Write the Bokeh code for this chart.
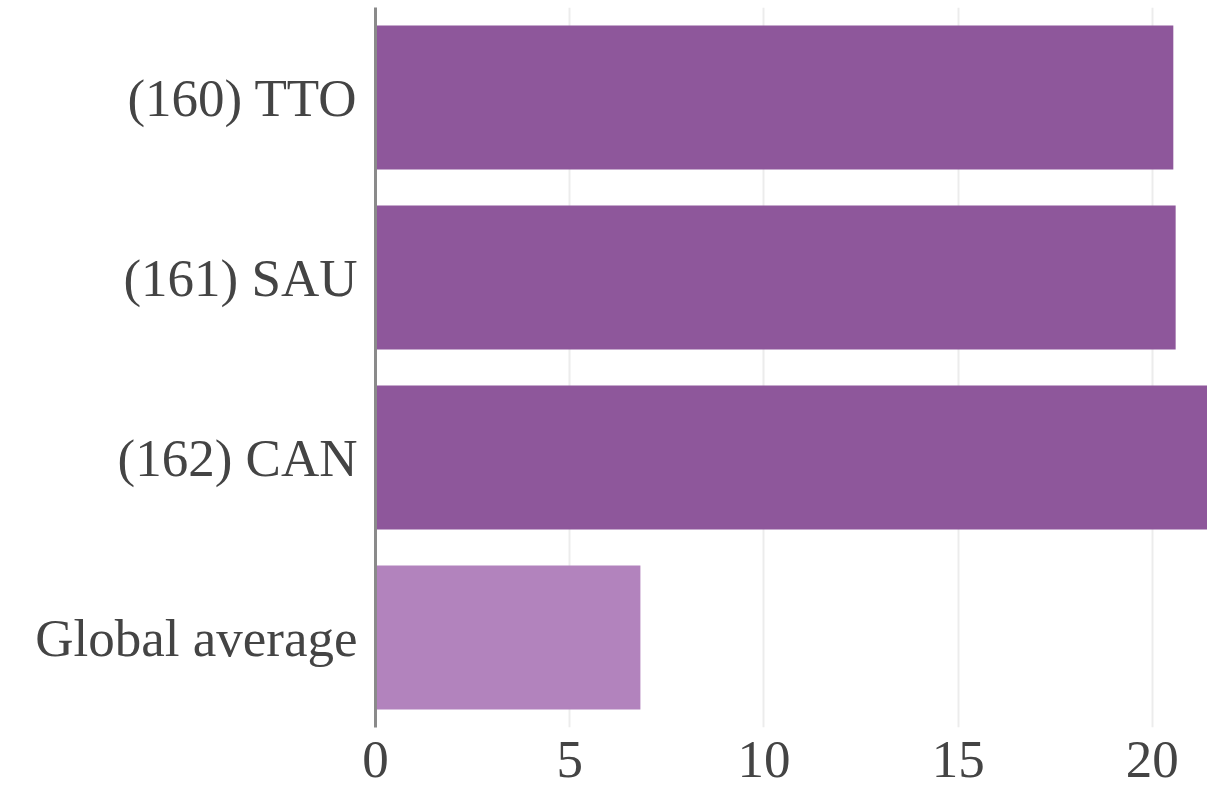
from bokeh.plotting import figure
from bokeh.models import FactorRange, Range1d, FixedTicker, ColumnDataSource
from bokeh.embed import file_html
from bokeh.resources import INLINE

categories = ["(160) TTO", "(161) SAU", "(162) CAN", "Global average"]
values = [20.54, 20.6, 22.1, 6.82]
colors = ["#8E579B", "#8E579B", "#8E579B", "#B283BD"]
x_ticks = [0, 5, 10, 15, 20]

src = ColumnDataSource(dict(cat=categories, val=values, color=colors))

p = figure(
    width=1207, height=789,
    y_range=FactorRange(factors=list(reversed(categories))),
    x_range=Range1d(0, 21.42),
    output_backend="svg", toolbar_location=None,
    min_border_left=375, min_border_right=0, min_border_top=7, min_border_bottom=62,
)
p.outline_line_color = None
p.hbar(y="cat", right="val", left=0, height=0.8, color="color", source=src, line_color=None)

p.xaxis.ticker = FixedTicker(ticks=x_ticks)
p.xaxis.axis_line_color = None
p.xaxis.major_tick_line_color = None
p.xaxis.minor_tick_line_color = None
p.xaxis.major_tick_out = 0
p.xaxis.major_label_standoff = 14

p.yaxis.axis_line_color = "#8a8a8a"
p.yaxis.axis_line_width = 3
p.yaxis.major_tick_line_color = None
p.yaxis.minor_tick_line_color = None
p.yaxis.major_tick_out = 0
p.yaxis.major_label_standoff = 18

for ax in (p.xaxis, p.yaxis):
    ax.major_label_text_font = "Liberation Serif"
    ax.major_label_text_font_size = "53px"
    ax.major_label_text_color = "#444444"

p.ygrid.grid_line_color = None
p.xgrid.grid_line_color = "#ececec"
p.xgrid.grid_line_width = 2

open("out.html", "w").write(file_html(p, INLINE))
